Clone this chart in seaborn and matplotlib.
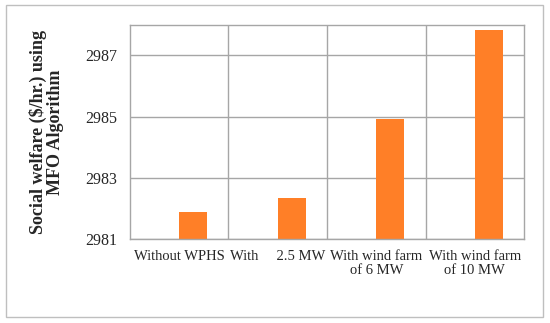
import pandas as pd
import matplotlib.pyplot as plt
import seaborn as sns
from matplotlib.patches import Rectangle

# chart values
categories = ['Without WPHS', 'With     2.5 MW', 'With wind farm\nof 6 MW', 'With wind farm\nof 10 MW']
social_welfare = [2981.87, 2982.35, 2984.91, 2987.83]
series_levels = ['blank', 'MFO']
y_ticks = [2981, 2983, 2985, 2987]

df = pd.DataFrame({
    'case': categories,
    'welfare': social_welfare,
    'series': 'MFO',
})

sns.set_style('white')
plt.rcParams['font.family'] = ['Liberation Serif', 'DejaVu Serif']

fig = plt.figure(figsize=(5.5, 3.23), dpi=100)
ax = fig.add_axes([0.236, 0.260, 0.717, 0.663])

sns.barplot(
    data=df, x='case', y='welfare', hue='series', hue_order=series_levels,
    palette={'blank': 'white', 'MFO': '#FF7F27'}, width=0.571, dodge=True,
    saturation=1, order=categories, legend=False, ax=ax, linewidth=0,
)

grid_color = '#A6A6A6'
ax.set_ylim(2981, 2988)
ax.set_xlim(-0.5, len(categories) - 0.5)
ax.set_yticks(y_ticks)
ax.set_yticklabels([str(t) for t in y_ticks], fontsize=11.5)

# category labels sit centred, ticks sit on the category boundaries
ax.set_xticks(range(len(categories)))
ax.set_xticklabels(categories, fontsize=10.5, linespacing=1.1)
ax.tick_params(axis='x', length=0, pad=8)
ax.set_xticks([i + 0.5 for i in range(-1, len(categories))], minor=True)
ax.tick_params(axis='x', which='minor', length=5, color=grid_color, width=1, direction='out')
ax.tick_params(axis='y', length=5, color=grid_color, width=1, direction='out', pad=4)

ax.grid(False)
for t in y_ticks:
    ax.axhline(t, color=grid_color, linewidth=1, zorder=0)
for b in range(1, len(categories)):
    ax.axvline(b - 0.5, color=grid_color, linewidth=1, zorder=0)

for side in ax.spines.values():
    side.set_visible(True)
    side.set_color(grid_color)
    side.set_linewidth(1)

ax.set_xlabel('')
ax.set_ylabel('Social welfare ($/hr.) using\nMFO Algorithm', fontsize=13,
              fontweight='bold', linespacing=1.0, labelpad=15)

fig.patches.append(Rectangle((0.011, 0.018), 0.976, 0.965, transform=fig.transFigure,
                             fill=False, edgecolor='#BFBFBF', linewidth=1))

fig.savefig('out.png', dpi=100)
